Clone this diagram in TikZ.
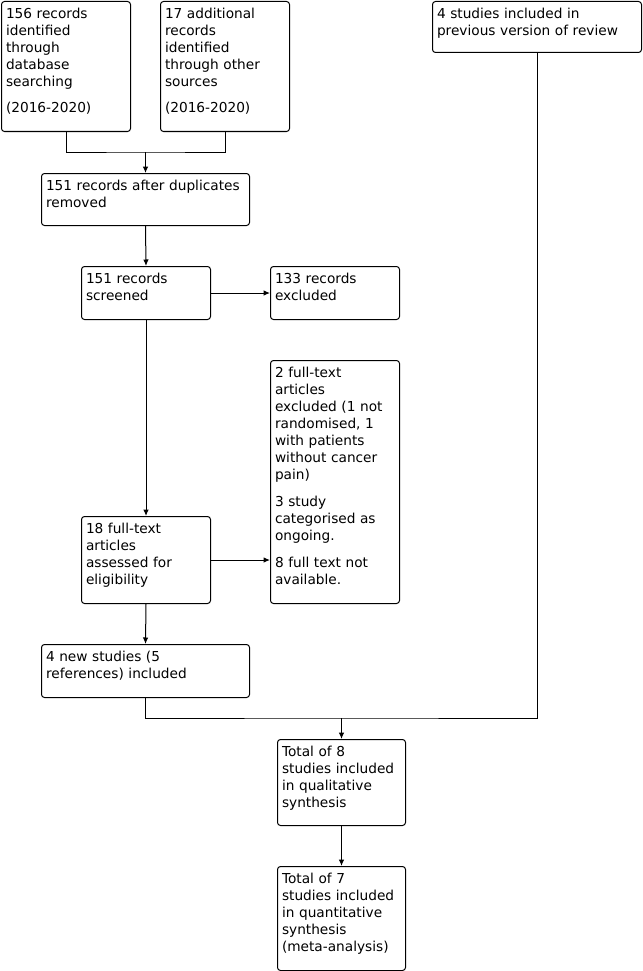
\documentclass[tikz,border=0pt]{standalone}
\usepackage{fontspec}
\setmainfont{DejaVu Sans}
\usetikzlibrary{arrows.meta}
\begin{document}
\begin{tikzpicture}[x=1pt,y=-1pt,
  box/.style={draw, rounded corners=3pt, line width=1pt, anchor=north west,
    inner xsep=4.5pt, inner ysep=0pt, text height=17pt, align=left,
    font=\fontsize{13.7pt}{17pt}\selectfont},
  conn/.style={line width=1pt},
  arr/.style={line width=1pt, -{Latex[length=6.5pt,width=5.5pt]}}]
\useasboundingbox (0,0) rectangle (642,971);
\node[box, text width=120pt, text depth=113pt] (A) at (1,1)
  {156 records\\identified\\through\\database\\searching\\[9pt](2016-2020)};
\node[box, text width=120pt, text depth=113pt] (B) at (160,1)
  {17 additional\\records\\identified\\through other\\sources\\[9pt](2016-2020)};
\node[box, text width=200pt, text depth=34pt] (C) at (432,1)
  {4 studies included in\\previous version of review};
\node[box, text width=199pt, text depth=35pt] (D) at (41,173)
  {151 records after duplicates\\removed};
\node[box, text width=120pt, text depth=36pt] (E) at (81,266)
  {151 records\\screened};
\node[box, text width=120pt, text depth=36pt] (F) at (270,266)
  {133 records\\excluded};
\node[box, text width=120pt, text depth=226pt] (G) at (270,360)
  {2 full-text\\articles\\excluded (1 not\\randomised, 1\\with patients\\without cancer\\pain)\\[10pt]3 study\\categorised as\\ongoing.\\[10pt]8 full text not\\available.};
\node[box, text width=120pt, text depth=70pt] (H) at (81,516)
  {18 full-text\\articles\\assessed for\\eligibility};
\node[box, text width=199pt, text depth=36pt] (I) at (41,644)
  {4 new studies (5\\references) included};
\node[box, text width=119pt, text depth=69pt] (J) at (277,739)
  {Total of 8\\studies included\\in qualitative\\synthesis};
\node[box, text width=119pt, text depth=87pt] (K) at (277,866)
  {Total of 7\\studies included\\in quantitative\\synthesis\\(meta-analysis)};
\coordinate (j1) at (D.north |- 0,152);
\coordinate (j2) at (J.north |- 0,718);
\draw[conn] (A.south) |- (j1) -| (B.south);
\draw[arr] (j1) -- (D.north);
\draw[arr] (D.south) -- (E.north);
\draw[arr] (E.east) -- (F.west);
\draw[arr] (E.south) -- (H.north);
\draw[arr] (H.east) -- (H.east -| G.west);
\draw[arr] (H.south) -- (I.north);
\draw[conn] (I.south) |- (j2) -| (C.south);
\draw[arr] (j2) -- (J.north);
\draw[arr] (J.south) -- (K.north);
\end{tikzpicture}
\end{document}
